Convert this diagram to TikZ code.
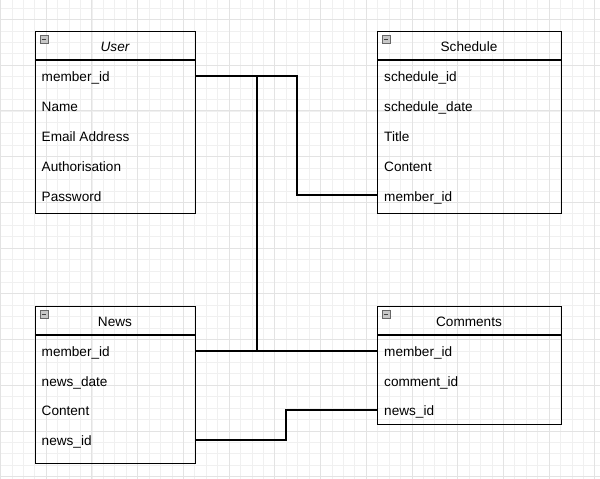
\documentclass[tikz,border=0pt]{standalone}
\usepackage{fontspec}
\setmainfont{Liberation Sans}
\usepackage{tikz}
\usetikzlibrary{positioning}

\tikzset{
  tbl/.style={draw=black, line width=1.2pt, anchor=north west, inner sep=0pt},
  hdr/.style={font=\fontsize{13.6}{16}\selectfont},
  fld/.style={anchor=base west, inner sep=0pt, font=\fontsize{13.6}{16}\selectfont},
  link/.style={draw=black, line width=1.2pt},
  icon/.style={draw=black!60, fill=black!22, line width=0.7pt},
}

% small collapse box in the header corner
\newcommand{\collapsebox}[1]{%
  \draw[icon] (#1) rectangle ++(8,7.5);
  \draw[line width=1.2pt, black!75] (#1) ++(1.6,3.75) -- ++(4.8,0);}

\begin{document}
\begin{tikzpicture}[x=1pt, y=-1pt]

    \useasboundingbox (0,0) rectangle (600,479);

    % grid
    \fill[white] (0,0) rectangle (600,479);
    \foreach \i in {0,...,53} {
      \draw[black!6, line width=0.8pt] (0.5+11.43*\i,0) -- (0.5+11.43*\i,479);
    }
    \foreach \i in {-2,...,41} {
      \draw[black!6, line width=0.8pt] (0,19.5+11.43*\i) -- (600,19.5+11.43*\i);
    }
    \foreach \i in {0,...,13} {
      \draw[black!11, line width=0.9pt] (0.5+45.72*\i,0) -- (0.5+45.72*\i,479);
    }
    \foreach \i in {0,...,10} {
      \draw[black!11, line width=0.9pt] (0,19.5+45.72*\i) -- (600,19.5+45.72*\i);
    }

    % user table
    \node[tbl, minimum width=160pt, minimum height=182pt] (user) at (35,31) {};
    \draw[line width=1.2pt] (35,60) -- (195,60);
    \collapsebox{40,35.5}
    \node[hdr] (user-hd) at (115,46.5) {\itshape User};
    \node[fld] (user-id) at (41.5,81) {member\_id};
    \node[fld] (user-name) at (41.5,111) {Name};
    \node[fld] (user-mail) at (41.5,141) {Email Address};
    \node[fld] (user-auth) at (41.5,171) {Authorisation};
    \node[fld] (user-pw) at (41.5,201) {Password};

    % schedule table
    \node[tbl, minimum width=183.5pt, minimum height=182pt] (sched) at (377,31) {};
    \draw[line width=1.2pt] (377,60) -- (560.5,60);
    \collapsebox{382,35.5}
    \node[hdr] (sched-hd) at (469,46.5) {Schedule};
    \node[fld] (sched-id) at (384,81) {schedule\_id};
    \node[fld] (sched-date) at (384,111) {schedule\_date};
    \node[fld] (sched-title) at (384,141) {Title};
    \node[fld] (sched-text) at (384,171) {Content};
    \node[fld] (sched-mid) at (384,201) {member\_id};

    % news table
    \node[tbl, minimum width=160pt, minimum height=157pt] (news) at (35,306) {};
    \draw[line width=1.2pt] (35,335) -- (195,335);
    \collapsebox{40,310.5}
    \node[hdr] (news-hd) at (115,321.5) {News};
    \node[fld] (news-mid) at (41.5,356) {member\_id};
    \node[fld] (news-date) at (41.5,386) {news\_date};
    \node[fld] (news-text) at (41.5,415.5) {Content};
    \node[fld] (news-id) at (41.5,445) {news\_id};

    % comments table
    \node[tbl, minimum width=183.5pt, minimum height=118pt] (comm) at (377,306) {};
    \draw[line width=1.2pt] (377,335) -- (560.5,335);
    \collapsebox{382,310.5}
    \node[hdr] (comm-hd) at (469,321.5) {Comments};
    \node[fld] (comm-mid) at (384,356) {member\_id};
    \node[fld] (comm-id) at (384,386) {comment\_id};
    \node[fld] (comm-news) at (384,415) {news\_id};

    % bends
    \coordinate (b1) at (297,76);
    \coordinate (b2) at (257,76);
    \coordinate (b3) at (286,440);

    % edges
    \draw[link] (user.east |- b1) -- (b1) -- (b1 |- 0,195) -- (sched.west |- 0,195);
    \draw[link] (user.east |- b2) -- (b2) -- (b2 |- 0,351) -- (comm.west |- 0,351);
    \draw[link] (news.east |- 0,351) -- (comm.west |- 0,351);
    \draw[link] (news.east |- b3) -- (b3) -- (b3 |- 0,410) -- (comm.west |- 0,410);

  \end{tikzpicture}
\end{document}
